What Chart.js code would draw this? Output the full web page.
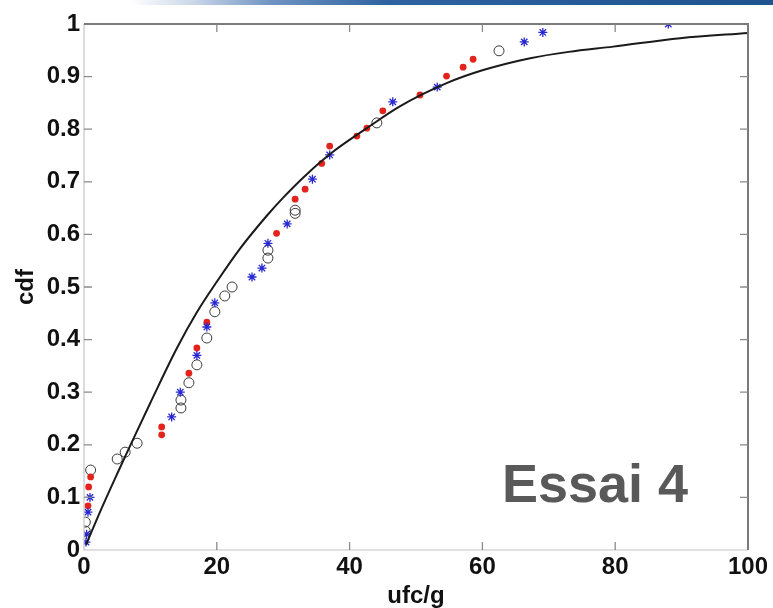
<!DOCTYPE html>
<html>
<head>
<meta charset="utf-8">
<script src="https://cdn.jsdelivr.net/npm/chart.js@4.4.1/dist/chart.umd.min.js"></script>
<style>
  html, body { margin: 0; padding: 0; background: #fff; }
  #wrap { position: relative; width: 773px; height: 608px; overflow: hidden; }
  #banner { position: absolute; left: 130px; top: 0; width: 643px; height: 5px;
    background: linear-gradient(to right, rgba(255,255,255,0) 0%, #c9d6e8 10%, #6f93c2 22%, #2f62a0 40%, #1f5390 100%); }
  canvas { position: absolute; left: 0; top: 0; }
</style>
</head>
<body>
<div id="wrap">
  <div id="banner"></div>
  <canvas id="cdfChart" width="773" height="608"></canvas>
</div>
<script>
// ---- data ----
const xTicks = [0, 20, 40, 60, 80, 100];
const yTicks = [0, 0.1, 0.2, 0.3, 0.4, 0.5, 0.6, 0.7, 0.8, 0.9, 1];
const yTickLabels = ['0', '0.1', '0.2', '0.3', '0.4', '0.5', '0.6', '0.7', '0.8', '0.9', '1'];

// fitted cdf curve
const fitX = [0.3, 2.5, 5, 7.2, 10, 14, 17, 20, 23.5, 27.5, 30, 33.6, 37.5, 42.6, 47.5, 54.7, 60, 67.2, 73, 79.7, 89.8, 100];
const fitY = [0.01, 0.075, 0.145, 0.205, 0.28, 0.384, 0.452, 0.51, 0.573, 0.635, 0.67, 0.715, 0.757, 0.802, 0.843, 0.888, 0.912, 0.935, 0.947, 0.957, 0.973, 0.983];

// empirical series 1 (red dots)
const redX = [0.6, 0.7, 1.0, 11.7, 11.7, 15.8, 17.0, 18.5, 29.0, 31.8, 33.3, 35.8, 37.0, 41.1, 42.6, 45.0, 50.6, 54.6, 57.1, 58.6];
const redY = [0.084, 0.12, 0.139, 0.219, 0.234, 0.336, 0.384, 0.433, 0.602, 0.667, 0.686, 0.735, 0.768, 0.787, 0.802, 0.835, 0.865, 0.901, 0.918, 0.933];

// empirical series 2 (blue stars)
const blueX = [0.3, 0.4, 0.6, 0.9, 13.2, 14.5, 17.0, 18.5, 19.7, 25.3, 26.8, 27.7, 30.6, 34.4, 37.0, 46.5, 53.2, 66.3, 69.1, 88.0];
const blueY = [0.015, 0.03, 0.072, 0.10, 0.253, 0.30, 0.37, 0.424, 0.47, 0.519, 0.536, 0.583, 0.62, 0.705, 0.751, 0.852, 0.88, 0.966, 0.984, 1.0];

// empirical series 3 (open circles)
const circX = [0.2, 0.2, 1.0, 5.0, 6.2, 8.0, 14.6, 14.6, 15.8, 17.0, 18.5, 19.7, 21.2, 22.3, 27.7, 27.7, 31.8, 31.8, 44.1, 62.5];
const circY = [0.036, 0.053, 0.152, 0.173, 0.186, 0.203, 0.27, 0.285, 0.318, 0.352, 0.403, 0.453, 0.483, 0.5, 0.555, 0.57, 0.64, 0.646, 0.812, 0.949];

const pts = (xs, ys) => xs.map((x, i) => ({ x, y: ys[i] }));
const FONT = "'Liberation Sans', Arial, sans-serif";

// inward ticks + box + annotation, matlab style
const boxPlugin = {
  id: 'boxPlugin',
  afterDraw(chart) {
    const { ctx, chartArea: a, scales } = chart;
    const tl = 8;
    ctx.save();
    ctx.lineCap = 'butt';
    // left / bottom (light)
    ctx.strokeStyle = '#c4c4c4'; ctx.lineWidth = 1.2;
    ctx.beginPath();
    ctx.moveTo(a.left, a.top); ctx.lineTo(a.left, a.bottom); ctx.lineTo(a.right, a.bottom);
    ctx.stroke();
    // top / right (darker)
    ctx.strokeStyle = '#7a7a7a'; ctx.lineWidth = 2;
    ctx.beginPath();
    ctx.moveTo(a.left, a.top); ctx.lineTo(a.right, a.top); ctx.lineTo(a.right, a.bottom);
    ctx.stroke();
    ctx.strokeStyle = '#8a8a8a'; ctx.lineWidth = 1.3;
    ctx.beginPath();
    xTicks.forEach(v => {
      const px = scales.x.getPixelForValue(v);
      if (v === xTicks[0] || v === xTicks[xTicks.length - 1]) return;
      ctx.moveTo(px, a.bottom); ctx.lineTo(px, a.bottom - tl);
      ctx.moveTo(px, a.top); ctx.lineTo(px, a.top + tl);
    });
    yTicks.forEach(v => {
      const py = scales.y.getPixelForValue(v);
      if (v === yTicks[0] || v === yTicks[yTicks.length - 1]) return;
      ctx.moveTo(a.left, py); ctx.lineTo(a.left + tl, py);
      ctx.moveTo(a.right, py); ctx.lineTo(a.right - tl, py);
    });
    ctx.stroke();
    // annotation
    ctx.fillStyle = '#595959';
    ctx.font = 'bold 54px ' + FONT;
    ctx.textAlign = 'left';
    ctx.textBaseline = 'alphabetic';
    ctx.fillText('Essai 4', 502, 502);
    ctx.restore();
  }
};

new Chart(document.getElementById('cdfChart'), {
  type: 'scatter',
  data: {
    datasets: [
      { type: 'line', label: 'fit', data: pts(fitX, fitY), borderColor: '#1a1a1a', borderWidth: 2,
        pointRadius: 0, fill: false, cubicInterpolationMode: 'monotone', order: 0 },
      { label: 'essai A', data: pts(redX, redY), pointStyle: 'circle', pointRadius: 3.4,
        backgroundColor: '#e3231c', borderColor: '#e3231c', borderWidth: 0, order: 2 },
      { label: 'essai B', data: pts(blueX, blueY), pointStyle: 'star', pointRadius: 4.5,
        backgroundColor: '#2828d0', borderColor: '#2828d0', borderWidth: 1.3, order: 1 },
      { label: 'essai C', data: pts(circX, circY), pointStyle: 'circle', pointRadius: 5,
        backgroundColor: 'rgba(255,255,255,0)', borderColor: '#3a3a3a', borderWidth: 1, order: 3 }
    ]
  },
  options: {
    responsive: false,
    animation: false,
    layout: { padding: { top: 24, right: 25, left: 0, bottom: 0 } },
    plugins: { legend: { display: false }, tooltip: { enabled: false } },
    scales: {
      x: {
        type: 'linear', min: 0, max: 100,
        afterBuildTicks: s => { s.ticks = xTicks.map(v => ({ value: v })); },
        afterFit: s => { s.height = 58; },
        grid: { display: false, drawTicks: false },
        border: { display: false },
        ticks: { color: '#111', padding: 3, font: { family: FONT, size: 24, weight: 'bold' } },
        title: { display: true, text: 'ufc/g', color: '#111', padding: { top: 0, bottom: 0 },
          font: { family: FONT, size: 24, weight: 'bold', lineHeight: 1 } }
      },
      y: {
        type: 'linear', min: 0, max: 1,
        afterBuildTicks: s => { s.ticks = yTicks.map(v => ({ value: v })); },
        afterFit: s => { s.width = 84; },
        grid: { display: false, drawTicks: false },
        border: { display: false },
        ticks: { color: '#111', padding: 4, font: { family: FONT, size: 24, weight: 'bold' },
          callback: (v, i) => yTickLabels[i] },
        title: { display: true, text: 'cdf', color: '#111', padding: { top: 14, bottom: 0 },
          font: { family: FONT, size: 24, weight: 'bold', lineHeight: 1 } }
      }
    }
  },
  plugins: [boxPlugin]
});
</script>
</body>
</html>
